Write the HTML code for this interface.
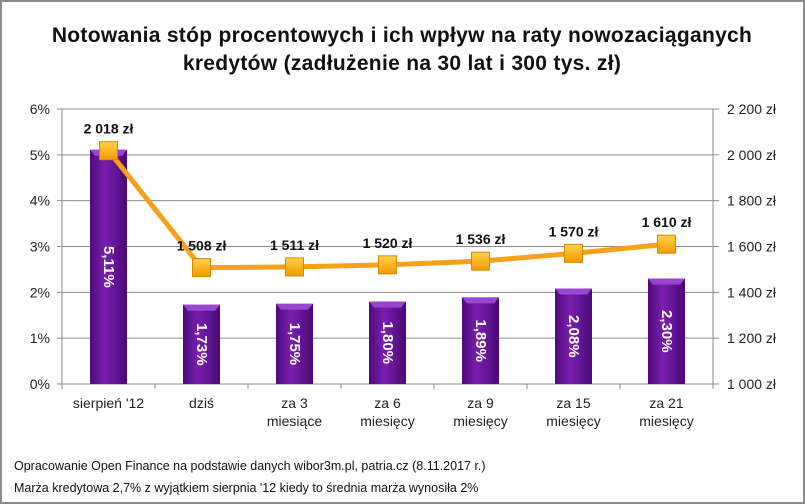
<!DOCTYPE html>
<html><head><meta charset="utf-8"><style>
body{margin:0;background:#fff;}
svg{display:block;font-family:"Liberation Sans",sans-serif;}
</style></head><body>
<svg id="c" width="805" height="504" viewBox="0 0 805 504">
<defs>
<linearGradient id="bg" x1="0" x2="1" y1="0" y2="0">
<stop offset="0" stop-color="#4e0a7a"/><stop offset="0.4" stop-color="#7a1fb0"/><stop offset="1" stop-color="#4a0875"/>
</linearGradient>
<linearGradient id="mg" x1="0" x2="0" y1="0" y2="1">
<stop offset="0" stop-color="#ffd24a"/><stop offset="1" stop-color="#f29a00"/>
</linearGradient>
</defs>
<rect x="1" y="1" width="803" height="502" fill="#fff" stroke="#8a8a8a" stroke-width="2"/>
<text x="402" y="42" text-anchor="middle" font-size="21" font-weight="bold" fill="#111" letter-spacing="0.3">Notowania stóp procentowych i ich wpływ na raty nowozaciąganych</text>
<text x="402" y="70" text-anchor="middle" font-size="21" font-weight="bold" fill="#111" letter-spacing="0.3">kredytów (zadłużenie na 30 lat i 300 tys. zł)</text>
<g id="plot"></g>
<text x="14" y="470" font-size="12.5" fill="#111">Opracowanie Open Finance na podstawie danych wibor3m.pl, patria.cz  (8.11.2017 r.)</text>
<text x="14" y="492" font-size="12.5" fill="#111">Marża kredytowa 2,7% z wyjątkiem sierpnia '12 kiedy to średnia marża wynosiła 2%</text>
</svg>
<script>
const categories=[["sierpień '12"],["dziś"],["za 3","miesiące"],["za 6","miesięcy"],["za 9","miesięcy"],["za 15","miesięcy"],["za 21","miesięcy"]];
const rates=[5.11,1.73,1.75,1.80,1.89,2.08,2.30];
const rateLabels=["5,11%","1,73%","1,75%","1,80%","1,89%","2,08%","2,30%"];
const installments=[2018,1508,1511,1520,1536,1570,1610];
const leftTicks=[0,1,2,3,4,5,6];
const rightTicks=[1000,1200,1400,1600,1800,2000,2200];
const NS="http://www.w3.org/2000/svg";
const g=document.getElementById('plot');
const X0=62,X1=713,Y0=384,Y1=109;
const n=categories.length,bw=(X1-X0)/n;
const xc=i=>X0+bw*(i+0.5);
const yL=v=>Y0-(v-0)/6*(Y0-Y1);
const yR=v=>Y0-(v-1000)/1200*(Y0-Y1);
const fmt=v=>{const s=String(v);return s.length>3?s.slice(0,s.length-3)+" "+s.slice(-3):s;};
function el(t,a,txt){const e=document.createElementNS(NS,t);for(const k in a)e.setAttribute(k,a[k]);if(txt!==undefined)e.textContent=txt;g.appendChild(e);return e;}
leftTicks.forEach(t=>{
 const y=yL(t);
 const l=el('line',{x1:X0-5,x2:X1,y1:y,y2:y,stroke:'#8c8c8c','stroke-width':1});
 
 
 const tx=el('text',{x:X0-12,y:y+5,'text-anchor':'end','font-size':14,fill:'#222'},t+'%');
 
 
});
rightTicks.forEach(t=>{
 const y=yR(t);
 const l=el('line',{x1:X1,x2:X1+6,y1:y,y2:y,stroke:'#888'});
 
 
 const tx=el('text',{x:X1+14,y:y+5,'font-size':14,fill:'#222'},fmt(t)+' zł');
 
 
});
const ax=el('line',{x1:X0,x2:X0,y1:Y1,y2:Y0,stroke:'#888'});


const ax2=el('line',{x1:X1,x2:X1,y1:Y1,y2:Y0+5,stroke:'#888'});


for(let i=0;i<=n;i++){const t=el('line',{x1:X0+bw*i,x2:X0+bw*i,y1:Y0,y2:Y0+5,stroke:'#888'});
 
 }
categories.forEach((c,i)=>{
 c.forEach((s,j)=>{const t=el('text',{x:xc(i),y:Y0+24+j*18,'text-anchor':'middle','font-size':14,fill:'#222'},s);
 
 });
});
const BW=37;
rates.forEach((v,i)=>{
 const x=xc(i)-BW/2,y=yL(v);
 const r=el('rect',{x:x,y:y,width:BW,height:Y0-y,fill:'url(#bg)'});
 
 
 const b=el('polygon',{points:`${x},${y} ${x+BW},${y} ${x+BW-5},${y+6} ${x+5},${y+6}`,fill:'#9a45cf'});
 
 
 const cy=(y+Y0)/2;
 const t=el('text',{x:xc(i),y:cy,'text-anchor':'middle','dominant-baseline':'central','font-size':15,'font-weight':'bold',fill:'#fff',transform:`rotate(90 ${xc(i)} ${cy})`},rateLabels[i]);
 
 
});
const pl=el('polyline',{points:installments.map((v,i)=>xc(i)+','+yR(v)).join(' '),fill:'none',stroke:'#f7a11a','stroke-width':5});


installments.forEach((v,i)=>{
 const m=el('rect',{x:xc(i)-9,y:yR(v)-9,width:18,height:18,fill:'url(#mg)',stroke:'#d98500','stroke-width':1});
 
 
 const t=el('text',{x:xc(i),y:yR(v)-17,'text-anchor':'middle','font-size':14,'font-weight':'bold',fill:'#111'},fmt(v)+' zł');
 
 
});
</script>
</body></html>
